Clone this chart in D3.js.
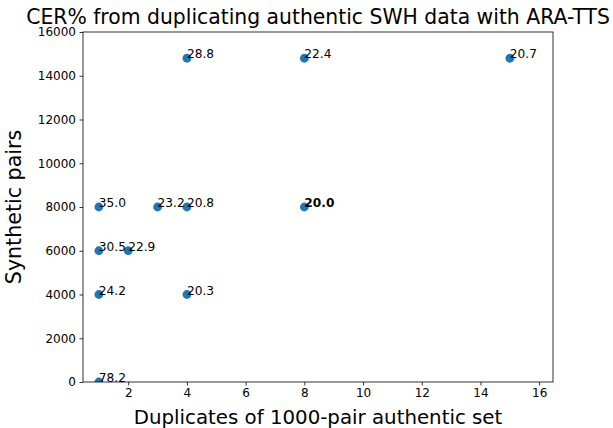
<!DOCTYPE html>
<html><head><meta charset="utf-8">
<script src="https://cdn.jsdelivr.net/npm/d3@7"></script>
<style>body{margin:0;background:#fff}svg{display:block}text{font-family:"DejaVu Sans",sans-serif;fill:#000}</style>
</head><body><svg id="c" width="613" height="428"></svg>
<script>
const duplicates = [1, 1, 1, 2, 1, 3, 4, 8, 4, 4, 8, 15];
const syntheticPairs = [0, 4000, 6000, 6000, 8000, 8000, 8000, 8000, 4000, 14800, 14800, 14800];
const cerLabels = ["78.2", "24.2", "30.5", "22.9", "35.0", "23.2", "20.8", "20.0", "20.3", "28.8", "22.4", "20.7"];
const boldLabel = "20.0";
const xTicks = [2, 4, 6, 8, 10, 12, 14, 16];
const yTicks = [0, 2000, 4000, 6000, 8000, 10000, 12000, 14000, 16000];

const svg = d3.select("#c");
const L = 83, R = 553, T = 32, B = 382;
const x = d3.scaleLinear().domain([0.46, 16.47]).range([L, R]);
const y = d3.scaleLinear().domain([0, 16000]).range([B, T]);

const defs = svg.append("defs");
defs.append("clipPath").attr("id", "clip").append("rect").attr("x", L).attr("y", T).attr("width", R - L).attr("height", B - T);

const gx = svg.append("g").attr("transform", `translate(0,${B})`)
  .call(d3.axisBottom(x).tickValues(xTicks).tickFormat(d3.format("d")).tickSizeOuter(0).tickSize(3.5).tickPadding(3));
const gy = svg.append("g").attr("transform", `translate(${L},0)`)
  .call(d3.axisLeft(y).tickValues(yTicks).tickFormat(d3.format("d")).tickSizeOuter(0).tickSize(3.5).tickPadding(3.5));
[gx, gy].forEach(g => {
  g.selectAll("text").attr("font-size", 12).attr("font-family", "DejaVu Sans");
  g.selectAll("line").attr("stroke", "#000").attr("stroke-width", 0.8);
  g.select(".domain").remove();
});

const pts = duplicates.map((d, i) => ({x: d, y: syntheticPairs[i], t: cerLabels[i]}));
svg.append("g").attr("clip-path", "url(#clip)").selectAll("circle").data(pts).join("circle")
  .attr("cx", d => x(d.x)).attr("cy", d => y(d.y)).attr("r", 4.4).attr("fill", "#1f77b4");

svg.append("rect").attr("x", L).attr("y", T).attr("width", R - L).attr("height", B - T)
  .attr("fill", "none").attr("stroke", "#000").attr("stroke-width", 0.8);

svg.append("g").selectAll("text").data(pts).join("text")
  .attr("x", d => x(d.x)).attr("y", d => y(d.y)).attr("font-size", 12.2)
  .attr("font-weight", d => d.t === boldLabel && d.x === 8 && d.y === 8000 ? "bold" : "normal")
  .text(d => d.t);

svg.append("text").attr("x", (L + R) / 2).attr("y", 23.5).attr("text-anchor", "middle").attr("font-size", 20.35)
  .text("CER% from duplicating authentic SWH data with ARA-TTS");
svg.append("text").attr("x", (L + R) / 2).attr("y", 424).attr("text-anchor", "middle").attr("font-size", 19.8)
  .text("Duplicates of 1000-pair authentic set");
svg.append("text").attr("transform", `translate(21,${(T + B) / 2}) rotate(-90)`).attr("text-anchor", "middle").attr("font-size", 20.6)
  .text("Synthetic pairs");
</script></body></html>
